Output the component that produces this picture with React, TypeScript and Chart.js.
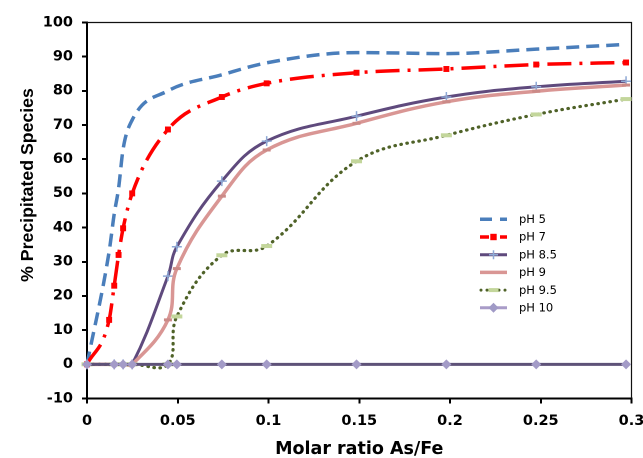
import { useEffect, useRef } from 'react';
import { Chart, registerables } from 'chart.js';

Chart.register(...registerables);

// ---- data ----
const X_TITLE = 'Molar ratio As/Fe';
const Y_TITLE = '% Precipitated Species';
const X_TICKS = [0, 0.05, 0.1, 0.15, 0.2, 0.25, 0.3];
const Y_MIN = -10;
const Y_MAX = 100;
const Y_STEP = 10;

const xDense = [0, 0.0122, 0.015, 0.0174, 0.0199, 0.0249, 0.0446, 0.0743, 0.099, 0.1485, 0.198, 0.2475, 0.297];
const xMain = [0, 0.015, 0.0199, 0.0249, 0.0446, 0.0495, 0.0743, 0.099, 0.1485, 0.198, 0.2475, 0.297];

const ph5 = [0, 33, 44, 51.5, 63, 71.5, 80, 84.7, 88.2, 91.2, 90.9, 92.2, 93.6];
const ph7 = [0, 13, 23, 32, 39.8, 50, 68.7, 78.2, 82.2, 85.3, 86.4, 87.7, 88.3];
const ph85 = [0, 0, 0, 0, 25.8, 34.4, 53.6, 65.3, 72.6, 78.2, 81.2, 82.8];
const ph9 = [0, 0, 0, 0, 13, 28, 49.2, 62.7, 70.5, 76.8, 79.9, 81.7];
const ph95 = [0, 0, 0, 0, 0, 14, 31.9, 34.6, 59.4, 67, 73.1, 77.6];
const ph10 = [0, 0, 0, 0, 0, 0, 0, 0, 0, 0, 0, 0];

const LABELS = ['pH 5', 'pH 7', 'pH 8.5', 'pH 9', 'pH 9.5', 'pH 10'];

const pts = (xs: number[], ys: number[]) => xs.map((x, i) => ({ x, y: ys[i] }));

// legend styling (drawn by plugin, without line-dash state)
const LEGEND_ITEMS = [
  { line: '#4A7EBB', width: 3.5, pattern: [12, 8], dots: false, marker: null as any },
  { line: '#FF0000', width: 3.5, pattern: [9, 4, 3, 4], dots: false, marker: { type: 'rect', color: '#FF0000', size: 3.2 } },
  { line: '#5F4A7D', width: 3, pattern: null as any, dots: false, marker: { type: 'cross', color: '#8EA9D5', size: 4.5 } },
  { line: '#D99694', width: 3.5, pattern: null as any, dots: false, marker: null },
  { line: '#4F6228', width: 3, pattern: null as any, dots: true, marker: { type: 'dash', color: '#C3D69B', size: 5 } },
  { line: '#A99CC8', width: 3, pattern: null as any, dots: false, marker: { type: 'diamond', color: '#A09AC6', size: 5 } },
];

function drawMarker(ctx: CanvasRenderingContext2D, m: any, x: number, y: number) {
  ctx.save();
  ctx.fillStyle = m.color;
  ctx.strokeStyle = m.color;
  if (m.type === 'rect') {
    ctx.fillRect(x - m.size, y - m.size, m.size * 2, m.size * 2);
  } else if (m.type === 'cross') {
    ctx.lineWidth = 1.5;
    ctx.beginPath();
    ctx.moveTo(x - m.size, y); ctx.lineTo(x + m.size, y);
    ctx.moveTo(x, y - m.size); ctx.lineTo(x, y + m.size);
    ctx.stroke();
  } else if (m.type === 'dash') {
    ctx.lineWidth = 4;
    ctx.beginPath();
    ctx.moveTo(x - m.size, y); ctx.lineTo(x + m.size, y);
    ctx.stroke();
  } else if (m.type === 'diamond') {
    ctx.beginPath();
    ctx.moveTo(x - m.size, y); ctx.lineTo(x, y - m.size);
    ctx.lineTo(x + m.size, y); ctx.lineTo(x, y + m.size);
    ctx.closePath();
    ctx.fill();
  }
  ctx.restore();
}

const bordersPlugin = {
  id: 'plotBorder',
  beforeDatasetsDraw(chart: any) {
    const { ctx, chartArea } = chart;
    ctx.save();
    ctx.strokeStyle = '#111';
    ctx.lineWidth = 1.2;
    ctx.beginPath();
    ctx.moveTo(chartArea.left, chartArea.top);
    ctx.lineTo(chartArea.right, chartArea.top);
    ctx.lineTo(chartArea.right, chartArea.bottom);
    ctx.stroke();
    ctx.restore();
  },
};

const textPlugin = {
  id: 'customTexts',
  afterDraw(chart: any) {
    const { ctx, chartArea } = chart;
    ctx.save();
    ctx.fillStyle = '#000';
    ctx.textAlign = 'center';
    ctx.textBaseline = 'alphabetic';
    // x title
    ctx.font = 'bold 17.5px "DejaVu Sans", sans-serif';
    ctx.fillText(X_TITLE, (chartArea.left + chartArea.right) / 2, 454);
    // y title
    ctx.save();
    ctx.font = 'bold 17.7px "Liberation Sans", Arial, sans-serif';
    ctx.translate(33, 185);
    ctx.rotate(-Math.PI / 2);
    ctx.fillText(Y_TITLE, 0, 0);
    ctx.restore();
    // legend
    const lx0 = 480, lx1 = 507, tx = 519, base0 = 223, step = 17.7;
    LEGEND_ITEMS.forEach((it, i) => {
      const by = base0 + i * step;
      const cy = by - 3.7;
      ctx.save();
      ctx.strokeStyle = it.line;
      ctx.fillStyle = it.line;
      ctx.lineWidth = it.width;
      if (it.dots) {
        for (let x = lx0 + 1; x <= lx1; x += 6) {
          ctx.beginPath();
          ctx.arc(x, cy, 1.5, 0, Math.PI * 2);
          ctx.fill();
        }
      } else {
        ctx.beginPath();
        if (it.pattern) {
          let x = lx0;
          let k = 0;
          while (x < lx1) {
            const len = it.pattern[k % it.pattern.length];
            if (k % 2 === 0) {
              ctx.moveTo(x, cy);
              ctx.lineTo(Math.min(x + len, lx1), cy);
            }
            x += len;
            k++;
          }
        } else {
          ctx.moveTo(lx0, cy);
          ctx.lineTo(lx1, cy);
        }
        ctx.stroke();
      }
      ctx.restore();
      if (it.marker) drawMarker(ctx, it.marker, (lx0 + lx1) / 2, cy);
      ctx.fillStyle = '#000';
      ctx.textAlign = 'left';
      ctx.font = '11.5px "DejaVu Sans", sans-serif';
      ctx.fillText(LABELS[i], tx, by);
    });
    ctx.restore();
  },
};

export default function App() {
  const ref = useRef<HTMLCanvasElement | null>(null);
  useEffect(() => {
    if (!ref.current) return;
    const tickFont = { family: '"DejaVu Sans", sans-serif', weight: 'bold', size: 14.5 };
    const datasets: any[] = [
      { data: pts(xDense, ph5), borderColor: '#4A7EBB', borderWidth: 3.5, borderDash: [13, 7], pointRadius: 0,
        cubicInterpolationMode: 'monotone', order: 5, clip: false },
      { data: pts(xDense, ph7), borderColor: '#FF0000', borderWidth: 3.5, borderDash: [24, 8, 3, 8], pointStyle: 'rect',
        pointRadius: 4.2, pointBorderWidth: 0, pointBackgroundColor: '#FF0000', cubicInterpolationMode: 'monotone', order: 4, clip: false },
      { data: pts(xMain, ph85), borderColor: '#5F4A7D', borderWidth: 3, pointStyle: 'cross', pointRadius: 5,
        pointBorderWidth: 1.5, pointBorderColor: '#8EA9D5', tension: 0.4, order: 3, clip: false },
      { data: pts(xMain, ph9), borderColor: '#D99694', borderWidth: 3.5, pointStyle: 'line', pointRadius: 4,
        pointBorderWidth: 3, pointBorderColor: '#CB8A87', tension: 0.4, order: 2, clip: false },
      { data: pts(xMain, ph95), borderColor: '#4F6228', borderWidth: 3.2, borderDash: [0.5, 5.6], borderCapStyle: 'round',
        pointStyle: 'line', pointRadius: 5.5, pointBorderWidth: 4, pointBorderColor: '#C3D69B', tension: 0.4, order: 1, clip: false },
      { data: pts(xMain, ph10), borderColor: '#5E5278', borderWidth: 3, pointStyle: 'rectRot', pointRadius: 5,
        pointBorderWidth: 0, pointBackgroundColor: '#A39BC7', tension: 0, order: 0, clip: false },
    ];
    const chart = new Chart(ref.current, {
      type: 'line',
      data: { datasets },
      options: {
        animation: false,
        responsive: false,
        maintainAspectRatio: false,
        devicePixelRatio: 2,
        events: [],
        layout: { padding: { left: 0, top: 22.5, right: 11.5, bottom: 0 } },
        plugins: { legend: { display: false }, tooltip: { enabled: false }, title: { display: false } },
        scales: {
          x: {
            type: 'linear',
            min: 0,
            max: 0.3,
            afterBuildTicks: (s: any) => { s.ticks = X_TICKS.map((v) => ({ value: v })); },
            afterFit: (s: any) => { s.height = 59.5; s.paddingLeft = 0; s.paddingRight = 0; },
            ticks: {
              font: tickFont, color: '#000', padding: 9, maxRotation: 0, autoSkip: false,
              callback: (v: any) => String(+Number(v).toFixed(3)),
            },
            grid: { display: true, drawOnChartArea: false, drawTicks: true, tickLength: 5, color: '#000', lineWidth: 2 },
            border: { display: true, color: '#000', width: 2 },
          },
          y: {
            type: 'linear',
            min: Y_MIN,
            max: Y_MAX,
            afterFit: (s: any) => { s.width = 87; s.paddingTop = 0; s.paddingBottom = 0; },
            ticks: { stepSize: Y_STEP, font: tickFont, color: '#000', padding: 9 },
            grid: { display: true, drawOnChartArea: false, drawTicks: true, tickLength: 5, color: '#000', lineWidth: 2 },
            border: { display: true, color: '#000', width: 2 },
          },
        },
      },
      plugins: [bordersPlugin, textPlugin],
    } as any);
    return () => chart.destroy();
  }, []);
  return (
    <div style={{ position: 'fixed', left: 0, top: 0, width: 643, height: 458 }}>
      <canvas ref={ref} width={643} height={458} style={{ display: 'block', width: 643, height: 458 }} />
    </div>
  );
}
